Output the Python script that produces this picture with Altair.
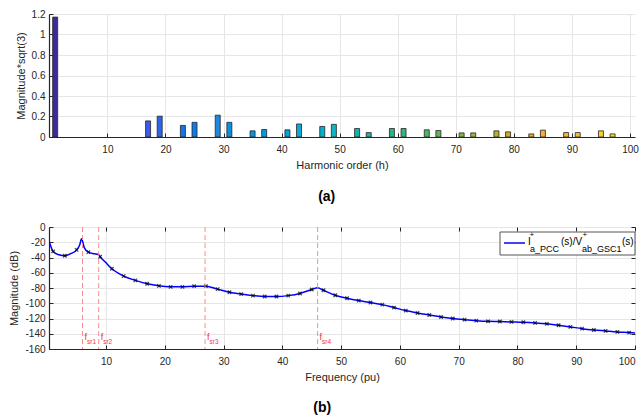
import altair as alt
import pandas as pd

# ---------------- data ----------------
harm_order = [1, 17, 19, 23, 25, 29, 31, 35, 37, 41, 43, 47, 49, 53, 55, 59, 61,
              65, 67, 71, 73, 77, 79, 83, 85, 89, 91, 95, 97]
harm_mag = [1.17, 0.157, 0.203, 0.113, 0.143, 0.213, 0.143, 0.06, 0.073, 0.07, 0.127,
            0.103, 0.123, 0.083, 0.043, 0.083, 0.083, 0.07, 0.063, 0.04, 0.04, 0.06,
            0.05, 0.03, 0.067, 0.043, 0.043, 0.06, 0.03]

marker_freq = [1, 3, 5, 7, 9, 11, 13, 15, 17, 19, 21, 23, 25, 27, 29, 31, 33, 35, 37, 39,
               41, 43, 45, 47, 49, 51, 53, 55, 57, 59, 61, 63, 65, 67, 69, 71, 73, 75, 77,
               79, 81, 83, 85, 87, 89, 91, 93, 95, 97, 99]
marker_mag = [-32, -37.7, -30, -33, -39, -54.8, -64.4, -70, -74.5, -77.2, -78.5, -78.5,
              -77.6, -77.6, -81.5, -85.5, -88, -90, -91.2, -91.2, -90, -87.2, -82, -83,
              -89.5, -93.4, -96.5, -99, -101.8, -105.7, -109.6, -112.7, -115.4, -118, -120,
              -121.5, -122.8, -123.7, -124, -124.5, -125, -125.8, -127, -128.9, -131,
              -133.3, -135, -136.3, -137.6, -138.5]
extra_freq = [0.3, 2, 4, 5.5, 5.85, 6.3, 8, 8.7, 10, 46, 100]
extra_mag = [-18, -36.5, -35, -24, -15.5, -27, -35, -36, -47, -79.8, -139]

fsr_freq = [6.0, 8.75, 26.85, 46.0]
fsr_sub = ["sr1", "sr2", "sr3", "sr4"]

x_ticks = [10, 20, 30, 40, 50, 60, 70, 80, 90, 100]
y_ticks_top = [0, 0.2, 0.4, 0.6, 0.8, 1, 1.2]
y_ticks_bot = [0, -20, -40, -60, -80, -100, -120, -140, -160]

# ---------------- styling ----------------
FONT = "Liberation Sans"
INK = "#262626"
GRID = "#e6e6e6"
W = 586
H1 = 123
H2 = 122
LBL = "datum.value + ''"

bars_df = pd.DataFrame({"h": harm_order, "mag": harm_mag})
mk_df = pd.DataFrame({"f": marker_freq, "m": marker_mag})
line_df = pd.concat([mk_df, pd.DataFrame({"f": extra_freq, "m": extra_mag})]).sort_values("f")
fsr_df = pd.DataFrame({"f": fsr_freq, "sub": fsr_sub})
one = pd.DataFrame({"k": [0]})


def tick_axis(orient, values):
    return alt.Axis(orient=orient, values=values, offset=-4, tickSize=4, ticks=True,
                    tickColor=INK, labels=False, domain=False, grid=False, title=None)


# ---------------- top chart ----------------
xs1 = alt.Scale(domain=[0.8, 100], nice=False, zero=False)
ys1 = alt.Scale(domain=[0, 1.2], nice=False)
parula_dom = [1, 17, 29, 43, 49, 55, 61, 67, 73, 79, 85, 91, 97]
parula_rng = ["#3b2a98", "#3a5ce8", "#1e88e0", "#12a8d6", "#10b6c6", "#22b2a0", "#35b37e",
              "#5fb850", "#92b83a", "#c8ae2c", "#f7a93a", "#f8c02c", "#f2dc1e"]

bars = alt.Chart(bars_df).mark_bar(size=5, stroke=INK, strokeWidth=0.8, clip=True).encode(
    x=alt.X("h:Q", scale=xs1, axis=alt.Axis(values=x_ticks, title="Harmonic order (h)",
                                            ticks=False, labelPadding=7, titlePadding=5,
                                            grid=True, labelExpr=LBL)),
    y=alt.Y("mag:Q", scale=ys1, axis=alt.Axis(values=y_ticks_top, title="Magnitude*sqrt(3)",
                                              ticks=False, labelPadding=4, titlePadding=5,
                                              grid=True, labelExpr=LBL)),
    color=alt.Color("h:Q", scale=alt.Scale(domain=parula_dom, range=parula_rng), legend=None),
)
bar_ticks = alt.Chart(bars_df).mark_point(opacity=0).encode(
    x=alt.X("h:Q", scale=xs1, axis=tick_axis("bottom", x_ticks)),
    y=alt.Y("mag:Q", scale=ys1, axis=tick_axis("left", y_ticks_top)),
)
top = alt.layer(bars, bar_ticks).resolve_axis(x="independent", y="independent").properties(
    width=W, height=H1,
    view=alt.ViewBackground(stroke=None),
    title=alt.TitleParams("(a)", orient="bottom", fontSize=14, fontWeight="bold", font=FONT,
                          color="black", offset=20, anchor="middle", frame="bounds"),
)

# ---------------- bottom chart ----------------
xs2 = alt.Scale(domain=[0.3, 100], nice=False, zero=False)
ys2 = alt.Scale(domain=[-160, 0], nice=False)

curve = alt.Chart(line_df).mark_line(color="#0000ff", strokeWidth=1.5, interpolate="monotone",
                                     clip=True).encode(
    x=alt.X("f:Q", scale=xs2, axis=alt.Axis(values=x_ticks, title="Frequency (pu)", ticks=False,
                                            labelPadding=7, titlePadding=5, grid=True,
                                            labelExpr=LBL)),
    y=alt.Y("m:Q", scale=ys2, axis=alt.Axis(values=y_ticks_bot, title="Magnitude (dB)",
                                            ticks=False, labelPadding=4, titlePadding=5,
                                            grid=True, labelExpr=LBL)),
)
markers = alt.Chart(mk_df).mark_point(shape="M-1,-1L1,1M-1,1L1,-1", size=12, color="black",
                                      strokeWidth=1.3, filled=False).encode(
    x=alt.X("f:Q", scale=xs2, axis=tick_axis("bottom", x_ticks)),
    y=alt.Y("m:Q", scale=ys2, axis=tick_axis("left", y_ticks_bot)),
)
box_ticks = alt.Chart(mk_df).mark_point(opacity=0).encode(
    x=alt.X("f:Q", scale=xs2, axis=tick_axis("top", x_ticks)),
    y=alt.Y("m:Q", scale=ys2, axis=tick_axis("right", y_ticks_bot)),
)
fsr_rules = alt.Chart(fsr_df).mark_rule(color="#ff8c8c", strokeDash=[5, 3], strokeWidth=1).encode(
    x=alt.X("f:Q", scale=xs2, axis=None),
)
fsr_f = alt.Chart(fsr_df).mark_text(text="f", align="left", baseline="middle", dx=2, fontSize=9,
                                    font=FONT, color="#ff3030").encode(
    x=alt.X("f:Q", scale=xs2, axis=None), y=alt.value(110))
fsr_s = alt.Chart(fsr_df).mark_text(align="left", baseline="middle", dx=4.5, fontSize=6.5,
                                    font=FONT, color="#ff3030").encode(
    x=alt.X("f:Q", scale=xs2, axis=None), y=alt.value(115), text="sub:N")

# legend (drawn by hand for the sub/superscripts)
leg_box = alt.Chart(one).mark_rect(fill="white", stroke="#555555", strokeWidth=1).encode(
    x=alt.value(451), x2=alt.value(586), y=alt.value(5), y2=alt.value(28))
leg_line = alt.Chart(one).mark_rule(color="#0000ff", strokeWidth=1.5).encode(
    x=alt.value(455), x2=alt.value(476), y=alt.value(16))


def leg_text(txt, x, y, size):
    return alt.Chart(one).mark_text(text=txt, align="left", baseline="middle", fontSize=size,
                                    font=FONT, color="black").encode(
        x=alt.value(x), y=alt.value(y))


legend_parts = [
    leg_text("I", 479, 15, 10),
    leg_text("+", 480.5, 8, 8),
    leg_text("a_PCC", 481, 21.5, 9),
    leg_text("(s)/V", 512, 15, 10),
    leg_text("+", 533.5, 8, 8),
    leg_text("ab_GSC1", 533, 21.5, 9),
    leg_text("(s)", 573, 15, 10),
]

bottom = alt.layer(curve, markers, box_ticks, fsr_rules, fsr_f, fsr_s, leg_box, leg_line,
                   *legend_parts).resolve_axis(x="independent", y="independent").properties(
    width=W, height=H2,
    view=alt.ViewBackground(stroke=INK, strokeWidth=1),
    title=alt.TitleParams("(b)", orient="bottom", fontSize=14, fontWeight="bold", font=FONT,
                          color="black", offset=19, anchor="middle", frame="bounds"),
)

chart = alt.vconcat(top, bottom, spacing=17).properties(
    padding={"left": 8, "top": 9, "right": 5, "bottom": 5},
    background="white",
).configure_axis(
    labelFont=FONT, titleFont=FONT, labelFontSize=10, titleFontSize=11,
    titleFontWeight="normal", labelColor=INK, titleColor=INK,
    domainColor=INK, domainWidth=1.2, gridColor=GRID, gridWidth=1,
).configure_view(stroke=None)

chart.save("out.html", embed_options={"renderer": "svg", "actions": False})
